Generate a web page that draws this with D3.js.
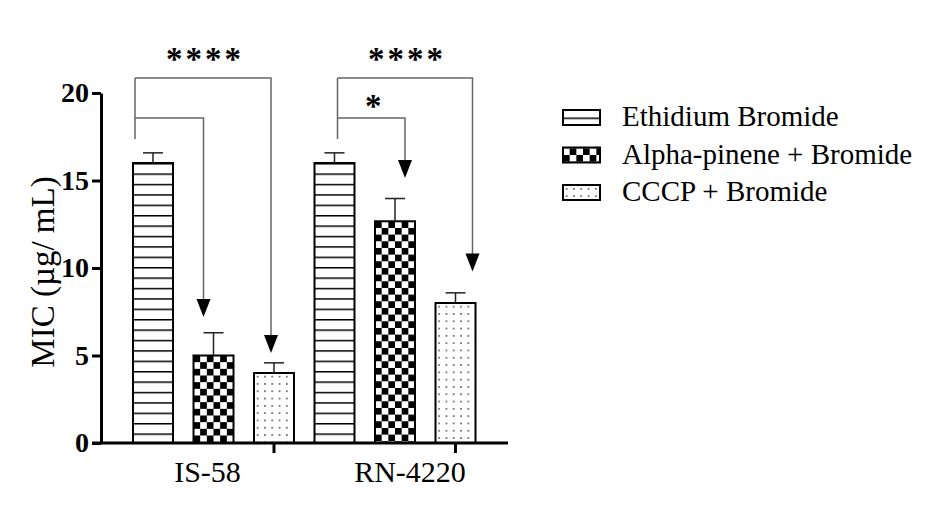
<!DOCTYPE html>
<html>
<head>
<meta charset="utf-8">
<script src="https://cdn.jsdelivr.net/npm/d3@7"></script>
<style>
  body { margin: 0; background: #fff; }
  text { font-family: "Liberation Serif", "Times New Roman", serif; }
</style>
</head>
<body>
<div id="chart"></div>
<script>
var groups = ["IS-58", "RN-4220"];
var series = ["Ethidium Bromide", "Alpha-pinene + Bromide", "CCCP + Bromide"];
var ethidium = [16, 16];
var ethidiumSd = [0.58, 0.58];
var alphaPinene = [5, 12.67];
var alphaPineneSd = [1.3, 1.3];
var cccp = [4, 8];
var cccpSd = [0.58, 0.58];
var yTicks = [0, 5, 10, 15, 20];

// significance brackets (heights in MIC units)
var comparisons = [
  {group: 0, target: 1, label: "",     level: 18.57, tip: 7.2,  fromDx: 2,  toDx: 10},
  {group: 0, target: 2, label: "****", level: 20.86, tip: 5.15, fromDx: 2,  toDx: 17},
  {group: 1, target: 1, label: "*",    level: 18.57, tip: 15.15, fromDx: 23, toDx: 30},
  {group: 1, target: 2, label: "****", level: 20.86, tip: 9.8,  fromDx: 23, toDx: 37}
];
var bracketStart = 17.37;
var labelDx = [-6, 15];

var values = [ethidium, alphaPinene, cccp];
var sds = [ethidiumSd, alphaPineneSd, cccpSd];
var patterns = ["stripes", "checker", "dots"];

var w = 936, h = 505;
var svg = d3.select("#chart").append("svg")
  .attr("width", w).attr("height", h);

var y = d3.scaleLinear().domain([0, 20]).range([443, 93]);
var x0 = d3.scaleBand().domain(groups).range([133, 496]);
var x1 = d3.scaleBand().domain(series).range([0, x0.bandwidth() - 20.5]).paddingInner(0.339);
var bw = x1.bandwidth();

var defs = svg.append("defs");

function makePattern(id, kind, ox, oy) {
  var p;
  if (kind == "stripes") {
    p = defs.append("pattern").attr("id", id).attr("patternUnits", "userSpaceOnUse")
      .attr("x", ox).attr("y", oy).attr("width", 20).attr("height", 10.4);
    p.append("rect").attr("width", 20).attr("height", 10.4).attr("fill", "#fff");
    p.append("line").attr("x1", 0).attr("x2", 20).attr("y1", 0).attr("y2", 0)
      .attr("stroke", "#000").attr("stroke-width", 3);
  } else if (kind == "checker") {
    var c = 40 / 6;
    p = defs.append("pattern").attr("id", id).attr("patternUnits", "userSpaceOnUse")
      .attr("x", ox).attr("y", oy).attr("width", 2 * c).attr("height", 2 * c);
    p.append("rect").attr("width", 2 * c).attr("height", 2 * c).attr("fill", "#fff");
    p.append("rect").attr("width", c).attr("height", c).attr("fill", "#000");
    p.append("rect").attr("x", c).attr("y", c).attr("width", c).attr("height", c).attr("fill", "#000");
  } else {
    p = defs.append("pattern").attr("id", id).attr("patternUnits", "userSpaceOnUse")
      .attr("x", ox).attr("y", oy).attr("width", 7.3).attr("height", 7.3);
    p.append("rect").attr("width", 7.3).attr("height", 7.3).attr("fill", "#fff");
    p.append("circle").attr("cx", 3.65).attr("cy", 3.65).attr("r", 0.95).attr("fill", "#555");
  }
}

// bars
var bars = [];
series.forEach(function(s, si) {
  groups.forEach(function(g, gi) {
    bars.push({s: s, si: si, g: g, gi: gi, v: values[si][gi], sd: sds[si][gi]});
  });
});

bars.forEach(function(d) {
  var bx = x0(d.g) + x1(d.s);
  makePattern("p" + d.si + "_" + d.gi, patterns[d.si], bx, y(d.v));
});

svg.selectAll("rect.bar")
  .data(bars)
  .enter()
  .append("rect")
  .attr("class", "bar")
  .attr("x", function(d) { return x0(d.g) + x1(d.s); })
  .attr("y", function(d) { return y(d.v); })
  .attr("width", bw)
  .attr("height", function(d) { return y(0) - y(d.v); })
  .attr("fill", function(d) { return "url(#p" + d.si + "_" + d.gi + ")"; })
  .attr("stroke", "#000")
  .attr("stroke-width", 2);

// error bars (upper only)
var err = svg.selectAll("g.err").data(bars).enter().append("g")
  .attr("stroke", "#222").attr("stroke-width", 1.5);
err.append("line")
  .attr("x1", function(d) { return x0(d.g) + x1(d.s) + bw / 2; })
  .attr("x2", function(d) { return x0(d.g) + x1(d.s) + bw / 2; })
  .attr("y1", function(d) { return y(d.v); })
  .attr("y2", function(d) { return y(d.v + d.sd); });
err.append("line")
  .attr("x1", function(d) { return x0(d.g) + x1(d.s) + bw / 4; })
  .attr("x2", function(d) { return x0(d.g) + x1(d.s) + bw * 3 / 4; })
  .attr("y1", function(d) { return y(d.v + d.sd); })
  .attr("y2", function(d) { return y(d.v + d.sd); });

// y axis
var yAxis = svg.append("g")
  .attr("transform", "translate(101,0)")
  .call(d3.axisLeft(y).tickValues(yTicks).tickSize(9).tickSizeOuter(0).tickPadding(3));
yAxis.select(".domain").attr("stroke", "#000").attr("stroke-width", 3);
yAxis.selectAll(".tick line").attr("stroke", "#000").attr("stroke-width", 3);
yAxis.selectAll(".tick text")
  .attr("fill", "#000")
  .style("font-family", '"Liberation Serif", "Times New Roman", serif')
  .style("font-weight", "bold")
  .style("font-size", "28px");

// x axis
svg.append("line").attr("x1", 92).attr("x2", 508)
  .attr("y1", y(0)).attr("y2", y(0))
  .attr("stroke", "#000").attr("stroke-width", 3);
svg.selectAll("line.xtick").data(groups).enter().append("line")
  .attr("class", "xtick")
  .attr("x1", function(g) { return x0(g) + x1(series[2]) + bw / 2; })
  .attr("x2", function(g) { return x0(g) + x1(series[2]) + bw / 2; })
  .attr("y1", y(0)).attr("y2", y(0) + 10)
  .attr("stroke", "#000").attr("stroke-width", 3);
svg.selectAll("text.xlab").data(groups).enter().append("text")
  .attr("class", "xlab")
  .attr("x", function(g, i) { return x0(g) + x1(series[1]) + bw / 2 + labelDx[i]; })
  .attr("y", 482)
  .attr("text-anchor", "middle")
  .style("font-size", "30px")
  .text(function(g) { return g; });

// y label
svg.append("text")
  .attr("transform", "translate(54,272) rotate(-90)")
  .attr("text-anchor", "middle")
  .style("font-size", "33px")
  .text("MIC (µg/ mL)");

// brackets
var br = svg.append("g");
groups.forEach(function(g, gi) {
  var sx = x0(g) + comparisons.filter(function(c) { return c.group == gi; })[0].fromDx;
  br.append("line").attr("x1", sx).attr("x2", sx)
    .attr("y1", y(bracketStart)).attr("y2", y(20.86))
    .attr("stroke", "#666").attr("stroke-width", 1.5);
});
comparisons.forEach(function(c) {
  var g = groups[c.group];
  var sx = x0(g) + c.fromDx;
  var tx = x0(g) + x1(series[c.target]) + c.toDx;
  var ly = y(c.level), tip = y(c.tip);
  br.append("path")
    .attr("d", "M" + sx + "," + ly + "H" + tx + "V" + (tip - 16))
    .attr("fill", "none").attr("stroke", "#666").attr("stroke-width", 1.5);
  br.append("path")
    .attr("d", "M" + (tx - 7) + "," + (tip - 18) + "L" + (tx + 7) + "," + (tip - 18) + "L" + tx + "," + tip + "Z")
    .attr("fill", "#000");
  if (c.label) {
    br.append("text")
      .attr("x", (sx + tx) / 2 + 2)
      .attr("y", ly - (c.label.length > 1 ? 8 : 1))
      .attr("text-anchor", "middle")
      .style("font-size", "33px")
      .style("font-weight", "bold")
      .style("letter-spacing", c.label.length > 1 ? "3px" : "0px")
      .text(c.label);
  }
});

// legend
var lg = svg.append("g");
series.forEach(function(s, i) {
  var top = 110 + i * 37.5;
  makePattern("lg" + i, patterns[i], 563, top + 7.5);
  lg.append("rect").attr("x", 563).attr("y", top).attr("width", 37).attr("height", 15)
    .attr("fill", "url(#lg" + i + ")").attr("stroke", "#000").attr("stroke-width", 2);
  lg.append("text").attr("x", 622).attr("y", top + 16)
    .style("font-size", "29px")
    .text(s);
});
</script>
</body>
</html>
